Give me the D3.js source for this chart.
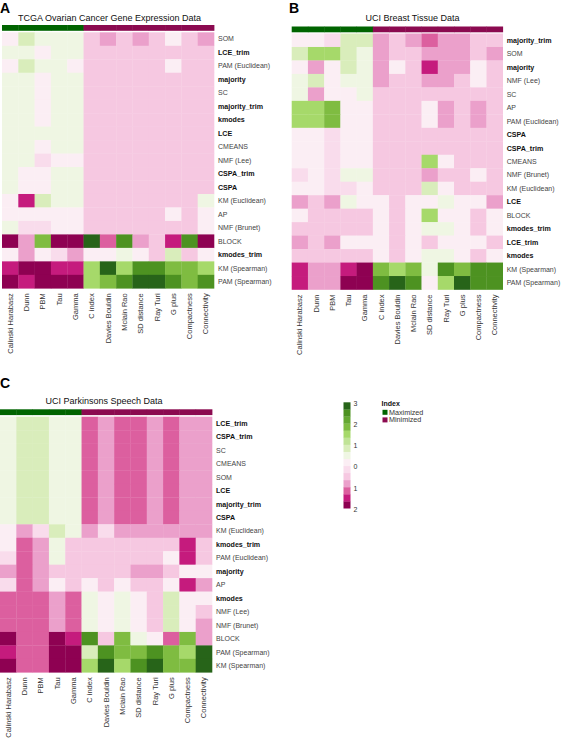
<!DOCTYPE html>
<html><head><meta charset="utf-8">
<script src="https://cdn.jsdelivr.net/npm/d3@7"></script>
<style>body{margin:0;background:#fff}svg{display:block;font-family:"Liberation Sans",Arial,Helvetica,sans-serif}</style>
</head><body><svg id="chart" width="562" height="739"></svg>
<script>
// ---------------- DATA ----------------
const indices = ["Calinski Harabasz","Dunn","PBM","Tau","Gamma","C index","Davies Bouldin","Mclain Rao","SD distance","Ray Turi","G plus","Compactness","Connectivity"];
const indexType = ["Maximized","Maximized","Maximized","Maximized","Maximized","Minimized","Minimized","Minimized","Minimized","Minimized","Minimized","Minimized","Minimized"];
const ensembleMethods = ["LCE_trim","majority","majority_trim","kmodes","LCE","CSPA_trim","CSPA","kmodes_trim"];

const rowsA = ["SOM","LCE_trim","PAM (Euclidean)","majority","SC","majority_trim","kmodes","LCE","CMEANS","NMF (Lee)","CSPA_trim","CSPA","KM (Euclidean)","AP","NMF (Brunet)","BLOCK","kmodes_trim","KM (Spearman)","PAM (Spearman)"];
const valuesA = [
 [0.2,0.8,0.5,0.5,0.5,-0.5,-0.8,-0.5,-0.8,-0.5,0.2,-0.5,-0.8],
 [0.5,0.5,0.2,0.5,0.5,-0.5,-0.5,-0.5,-0.5,-0.5,-0.5,-0.5,-0.5],
 [0.2,0.8,0.5,0.5,0.2,-0.5,-0.5,-0.5,-0.5,-0.5,0.2,-0.5,-0.5],
 [0.5,0.5,0.2,0.5,0.5,-0.5,-0.5,-0.5,-0.5,-0.5,-0.5,-0.5,-0.5],
 [0.5,0.5,0.2,0.5,0.5,-0.5,-0.5,-0.5,-0.5,-0.5,-0.5,-0.5,-0.5],
 [0.5,0.5,0.2,0.5,0.5,-0.5,-0.5,-0.5,-0.5,-0.5,-0.5,-0.5,-0.5],
 [0.5,0.5,0.2,0.5,0.5,-0.5,-0.5,-0.5,-0.5,-0.5,-0.5,-0.5,-0.5],
 [0.5,0.5,0.5,0.5,0.5,-0.5,-0.5,-0.5,-0.5,-0.5,-0.5,-0.5,-0.5],
 [0.5,0.5,0.2,0.5,0.5,-0.5,-0.5,-0.5,-0.5,-0.5,-0.5,-0.5,-0.5],
 [0.5,0.5,-0.2,0.2,0.2,-0.5,-0.5,-0.5,-0.5,-0.5,-0.5,-0.5,-0.5],
 [0.5,0.2,0.2,0.5,0.5,-0.5,-0.5,-0.5,-0.5,-0.5,-0.5,-0.5,-0.5],
 [0.5,0.2,0.2,0.5,0.5,-0.5,-0.5,-0.5,-0.5,-0.5,-0.5,-0.5,-0.5],
 [0.2,-1.5,0.8,0.5,0.5,-0.5,-0.5,-0.5,-0.5,-0.5,-0.5,-0.5,0.5],
 [0.2,0.2,0.2,0.2,0.2,-0.5,-0.5,-0.5,-0.5,-0.5,0.2,-0.5,0.2],
 [0.5,-0.2,-0.2,0.2,0.2,-0.5,-0.5,-0.5,-0.5,-0.5,-0.5,-0.5,0.2],
 [-2,-0.8,1.8,-2,-2,2.8,-1.2,2.5,-0.8,-0.5,-1.5,2.5,-2],
 [0.2,-0.8,0.2,-0.2,-0.8,0.2,0.2,0.5,0.2,-0.5,0.8,-0.5,0.2],
 [-1.5,-2,-2,-1.5,-1.5,1.5,2.8,1.5,2.5,2.5,1.8,1.8,1.5],
 [-2,-1.5,-2,-2,-2,1.5,1.8,2.5,2.8,2.8,2.5,1.8,2.5]
];

const rowsB = ["majority_trim","SOM","majority","NMF (Lee)","SC","AP","PAM (Euclidean)","CSPA","CSPA_trim","CMEANS","NMF (Brunet)","KM (Euclidean)","LCE","BLOCK","kmodes_trim","LCE_trim","kmodes","KM (Spearman)","PAM (Spearman)"];
const valuesB = [
 [0.2,0.2,-0.2,0.8,0.8,-0.8,-0.5,-0.8,-1.2,-0.8,-0.8,-0.5,-0.5],
 [0.8,1.5,1.5,0.8,0.5,-0.8,-0.5,-0.5,-0.8,-0.8,-0.8,-0.5,-0.8],
 [0.2,-0.8,0.2,0.8,0.5,-0.8,0.2,-0.5,-1.5,-0.8,-0.8,0.2,-0.5],
 [0.5,0.8,0.2,0.5,0.5,-0.8,-0.5,-0.5,-0.8,-0.8,-0.5,0.2,-0.5],
 [0.5,-0.8,0.2,0.2,0.5,-0.5,-0.5,-0.5,-0.5,-0.5,-0.5,-0.5,-0.5],
 [1.5,1.5,1.8,0.2,0.2,-0.5,-0.5,-0.5,0.2,-0.8,-0.5,-0.8,-0.5],
 [1.5,1.5,1.8,0.2,0.2,-0.5,-0.5,-0.5,0.2,-0.8,-0.5,-0.8,-0.5],
 [0.2,0.2,-0.2,0.2,0.2,-0.5,-0.5,-0.5,-0.5,-0.5,-0.5,-0.5,-0.5],
 [0.2,0.2,-0.2,0.2,0.2,-0.5,-0.5,-0.5,-0.5,-0.5,-0.5,-0.5,-0.5],
 [0.2,0.2,-0.2,0.2,0.2,-0.5,-0.5,-0.5,1.5,0.2,-0.5,-0.5,-0.5],
 [-0.2,0.2,-0.2,0.5,0.5,-0.5,-0.5,-0.5,-0.8,-0.5,-0.5,0.2,-0.5],
 [0.2,0.2,-0.2,-0.2,0.2,-0.5,-0.5,-0.5,0.8,0.2,-0.5,-0.5,-0.5],
 [-0.8,-0.5,-0.8,0.5,0.2,0.2,-0.5,0.2,0.2,0.5,0.2,0.2,-0.8],
 [0.2,-0.5,-0.5,-0.5,-0.5,0.2,-0.5,0.2,1.5,0.2,0.2,-0.5,0.2],
 [-0.5,-0.5,-0.5,-0.5,-0.5,0.2,-0.5,0.2,0.5,0.5,0.2,-0.5,0.2],
 [-0.8,-0.5,-0.8,0.2,0.2,0.2,-0.5,0.2,-0.5,0.2,0.2,0.2,-0.5],
 [-0.5,-0.5,-0.5,-0.5,-0.5,0.2,-0.5,0.2,0.5,0.5,0.2,-0.5,0.2],
 [-1.5,-0.8,-0.8,-1.5,-2,1.8,1.5,1.8,0.5,2.5,1.8,2.5,2.5],
 [-1.5,-0.8,-0.8,-2,-2,2.5,2.8,2.5,0.2,1.5,2.8,2.5,2.5]
];

const rowsC = ["LCE_trim","CSPA_trim","SC","CMEANS","SOM","LCE","majority_trim","CSPA","KM (Euclidean)","kmodes_trim","PAM (Euclidean)","majority","AP","kmodes","NMF (Lee)","NMF (Brunet)","BLOCK","PAM (Spearman)","KM (Spearman)"];
const valuesC = [
 [0.5,0.8,0.8,0.5,0.5,-1.2,-0.8,-1.2,-1.2,-0.8,-1.2,-0.8,-0.8],
 [0.5,0.8,0.8,0.5,0.5,-1.2,-0.8,-1.2,-1.2,-0.8,-1.2,-0.8,-0.8],
 [0.5,0.8,0.8,0.5,0.5,-1.2,-0.8,-1.2,-1.2,-0.8,-1.2,-0.8,-0.8],
 [0.5,0.8,0.8,0.5,0.5,-1.2,-0.8,-1.2,-1.2,-0.8,-1.2,-0.8,-0.8],
 [0.5,0.8,0.8,0.5,0.5,-1.2,-0.8,-1.2,-1.2,-0.8,-1.2,-0.8,-0.8],
 [0.5,0.8,0.8,0.5,0.5,-1.2,-0.8,-1.2,-1.2,-0.8,-1.2,-0.8,-0.8],
 [0.5,0.8,0.8,0.5,0.5,-1.2,-0.8,-1.2,-1.2,-0.8,-1.2,-0.8,-0.8],
 [0.5,0.8,0.8,0.5,0.5,-1.2,-0.8,-1.2,-1.2,-0.8,-1.2,-0.8,-0.8],
 [0.2,-0.8,-0.2,0.8,0.5,-0.8,-0.2,-0.8,-0.8,-0.8,-0.8,-0.8,-0.8],
 [0.2,-1.2,-0.8,0.5,-0.5,-0.5,-0.5,-0.5,-0.5,-0.5,-0.5,-1.5,-0.5],
 [-0.2,-1.2,-0.8,0.5,-0.5,-0.5,-0.5,-0.5,-0.5,-0.5,0.2,-1.5,-0.5],
 [-0.8,-1.2,-0.8,-0.5,-0.5,-0.5,-0.5,-0.5,-0.8,-0.8,-0.5,0.2,0.2],
 [-0.2,-1.2,-0.8,0.2,-0.5,0.2,-0.5,0.2,-0.5,-0.5,0.2,-1.5,-0.8],
 [-1.2,-1.2,-1.2,-0.8,-1.2,0.5,0.2,0.5,0.2,-0.5,0.8,0.2,0.2],
 [-1.2,-1.2,-1.2,-0.8,-1.2,0.5,0.2,0.5,0.2,-0.5,0.8,0.2,-0.5],
 [-1.2,-1.2,-1.2,-0.8,-1.2,0.5,0.2,0.5,0.2,-0.5,0.8,0.2,-0.8],
 [-2,-1.2,-1.2,-2,-1.5,2.5,-0.5,1.8,0.5,0.2,-1.2,1.8,-0.8],
 [-1.5,-1.2,-1.2,-2,-2,0.8,2.5,1.8,1.8,2.5,1.8,1.5,2.8],
 [-2,-1.2,-1.2,-2,-2,1.5,2.8,1.5,2.5,2.8,1.8,1.8,2.8]
];

const colorBreaks = [-5/3,-4/3,-1,-2/3,-1/3,0,1/3,2/3,1,4/3,5/3,2,7/3,8/3];
const colorRange = ["#8e0152","#c51b7d","#dc5f9f","#eba0cb","#f6c8e1","#f9dcec","#fbeef4","#eff6e3","#d9edbb","#c0e396","#a6d96a","#7fbc41","#65a832","#4d9221","#276419"];
const legendTicks = [3,2,1,0,-1,-2];
const legendTickLabels = ["3","2","1","0","1","2"];
const indexTypes = ["Maximized","Minimized"];
const indexTypeColors = ["#006400","#8b0a50"];

// ---------------- DRAW ----------------
const svg = d3.select("#chart");
const color = d3.scaleThreshold().domain(colorBreaks).range(colorRange);
const typeColor = d3.scaleOrdinal().domain(indexTypes).range(indexTypeColors);

const panels = [
  {letter:"A", lx:0, ly:13, title:"TCGA Ovarian Cancer Gene Expression Data", tx:109.5, ty:21, rows:rowsA, values:valuesA, x:2, w:212, y:32.3, h:256, barY:25},
  {letter:"B", lx:289, ly:13, title:"UCI Breast Tissue Data", tx:412.5, ty:20.5, rows:rowsB, values:valuesB, x:291.7, w:211, y:33.5, h:256, barY:26.5},
  {letter:"C", lx:0, ly:388, title:"UCI Parkinsons Speech Data", tx:104, ty:404, rows:rowsC, values:valuesC, x:0, w:212, y:416.7, h:255.6, barY:409.3}
];

panels.forEach(p => {
  const xs = d3.scaleBand().domain(indices).range([p.x, p.x + p.w]);
  const ys = d3.scaleBand().domain(p.rows).range([p.y, p.y + p.h]);
  const g = svg.append("g");

  g.append("text").attr("x", p.lx).attr("y", p.ly).text(p.letter)
    .attr("font-size", 14).attr("font-weight", "bold").attr("fill", "#000");
  g.append("text").attr("x", p.tx).attr("y", p.ty).text(p.title)
    .attr("font-size", 9).attr("text-anchor", "middle").attr("fill", "#111");

  // index type bar
  g.selectAll("rect.bar").data(indices).join("rect")
    .attr("x", d => xs(d)).attr("y", p.barY)
    .attr("width", xs.bandwidth() + 0.4).attr("height", 5.8)
    .attr("fill", (d, i) => typeColor(indexType[i]));

  // cells
  const cells = [];
  p.rows.forEach((r, ri) => indices.forEach((c, ci) => cells.push({r, c, v: p.values[ri][ci]})));
  g.selectAll("rect.cell").data(cells).join("rect")
    .attr("x", d => xs(d.c)).attr("y", d => ys(d.r))
    .attr("width", xs.bandwidth() + 0.3).attr("height", ys.bandwidth() + 0.3)
    .attr("fill", d => color(d.v));

  // row labels
  g.selectAll("text.row").data(p.rows).join("text")
    .attr("x", p.x + p.w + 4).attr("y", d => ys(d) + ys.bandwidth() / 2)
    .attr("dy", "0.35em")
    .attr("font-size", d => ensembleMethods.includes(d) ? 7.1 : 7)
    .attr("font-weight", d => ensembleMethods.includes(d) ? "bold" : "normal")
    .attr("fill", d => ensembleMethods.includes(d) ? "#111" : "#444")
    .text(d => d);

  // column labels
  const by = p.y + p.h + 5;
  g.selectAll("text.col").data(indices).join("text")
    .attr("transform", d => `translate(${xs(d) + xs.bandwidth() / 2},${by}) rotate(-90)`)
    .attr("text-anchor", "end").attr("dy", "0.35em")
    .attr("font-size", 7.5).attr("fill", "#333")
    .text(d => d);
});

// ---------------- LEGEND ----------------
const ly = d3.scaleLinear().domain([-2, 3]).range([508.3, 402.3]);
const bands = d3.range(15).map(i => -2 + i / 3);
svg.append("g").selectAll("rect").data(bands).join("rect")
  .attr("x", 343.5).attr("y", d => ly(d + 1 / 3))
  .attr("width", 7).attr("height", d => ly(d) - ly(d + 1 / 3) + 0.2)
  .attr("fill", d => color(d + 1 / 6));
svg.append("g").selectAll("text").data(legendTicks).join("text")
  .attr("x", 353.5).attr("y", d => ly(d) + 1).attr("dy", "0.35em")
  .attr("font-size", 7).attr("fill", "#333")
  .text((d, i) => legendTickLabels[i]);

const lg = svg.append("g");
lg.append("text").attr("x", 381.5).attr("y", 405.5).text("Index")
  .attr("font-size", 7).attr("font-weight", "bold").attr("fill", "#111");
lg.selectAll("rect").data(indexTypes).join("rect")
  .attr("x", 382.5).attr("y", (d, i) => 409.8 + i * 7.6)
  .attr("width", 5).attr("height", 5).attr("fill", d => typeColor(d));
lg.selectAll("text.it").data(indexTypes).join("text")
  .attr("x", 389).attr("y", (d, i) => 412.3 + i * 7.6).attr("dy", "0.35em")
  .attr("font-size", 7.2).attr("fill", "#333").text(d => d);
</script></body></html>
